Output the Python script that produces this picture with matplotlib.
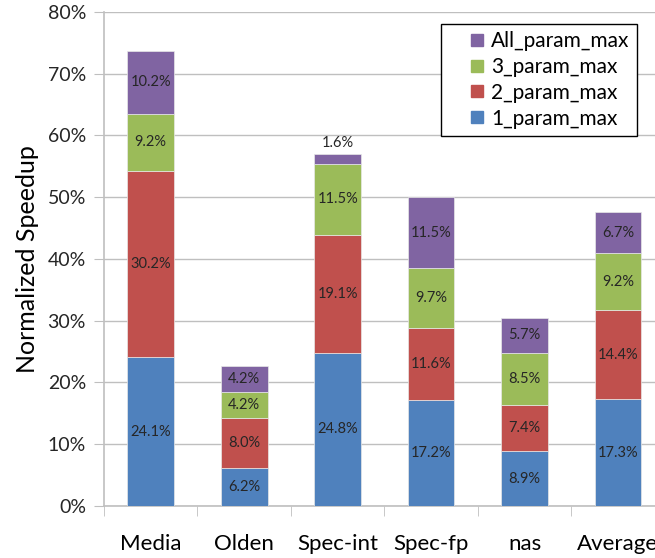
import numpy as np
import matplotlib
matplotlib.use("Agg")
from matplotlib import pyplot as plt
from matplotlib.lines import Line2D

plt.rcParams['font.family'] = ['Lato', 'DejaVu Sans']

groups = ["Media", "Olden", "Spec-int", "Spec-fp", "nas", "Average"]
series = ["1_param_max", "2_param_max", "3_param_max", "All_param_max"]
p1 = [24.1, 6.2, 24.8, 17.2, 8.9, 17.3]
p2 = [30.2, 8.0, 19.1, 11.6, 7.4, 14.4]
p3 = [9.2, 4.2, 11.5, 9.7, 8.5, 9.2]
pall = [10.2, 4.2, 1.6, 11.5, 5.7, 6.7]
colors = ["#4F81BD", "#C0504D", "#9BBB59", "#8064A2"]

fig = plt.figure(figsize=(6.55, 5.58), dpi=100)
ax = fig.add_axes([0.1588, 0.0932, 0.856, 0.8853])

x = np.arange(len(groups))
bottom = np.zeros(len(groups))
for vals, name, c in zip([p1, p2, p3, pall], series, colors):
    vals = np.array(vals)
    ax.bar(x, vals, 0.5, bottom=bottom, color=c, edgecolor="#e8e8e8",
           linewidth=0.5, label=name, zorder=3)
    for xi, v, bt in zip(x, vals, bottom):
        # thin slices get their label above the bar
        if v < 3:
            ax.text(xi, bt + v + 0.6, f"{v:.1f}%", ha="center", va="bottom",
                    fontsize=10.5, color="#262626", zorder=4)
        else:
            ax.text(xi, bt + v / 2, f"{v:.1f}%", ha="center", va="center",
                    fontsize=10.5, color="#262626", zorder=4)
    bottom = bottom + vals

ax.set_xlim(-0.5, len(groups) - 0.5)
ax.set_ylim(0, 80)
ax.set_yticks(np.arange(0, 81, 10))
ax.set_yticklabels([f"{v}%" for v in range(0, 81, 10)], fontsize=14, color="#262626")
ax.yaxis.grid(True, color="#BFBFBF", linewidth=1, zorder=0)
ax.tick_params(axis="y", length=7, color="#BFBFBF", pad=6)

ax.set_xticks(x)
ax.set_xticklabels(groups, fontsize=16, color="#000000")
ax.set_xticks(np.arange(-0.5, len(groups), 1), minor=True)
ax.tick_params(axis="x", which="major", length=0, pad=20)
ax.tick_params(axis="x", which="minor", length=7, color="#BFBFBF")

for s in ["top", "right"]:
    ax.spines[s].set_visible(False)
for s in ["left", "bottom"]:
    ax.spines[s].set_color("#BFBFBF")
    ax.spines[s].set_linewidth(1.2)

ax.set_ylabel("Normalized Speedup", fontsize=18, labelpad=6)

handles = [Line2D([], [], marker="s", linestyle="none", markersize=9,
                  markerfacecolor=c, markeredgecolor=c) for c in colors]
leg = ax.legend(handles[::-1], series[::-1], loc="upper right",
                bbox_to_anchor=(0.9725, 0.9575), bbox_transform=fig.transFigure,
                borderaxespad=0, fontsize=15, fancybox=False, framealpha=1,
                handlelength=2.8, handletextpad=-0.72,
                labelspacing=0.28, borderpad=0.35)
leg.get_frame().set_edgecolor("black")
leg.get_frame().set_linewidth(1)
leg.set_zorder(5)

fig.savefig("out.png", dpi=100)
